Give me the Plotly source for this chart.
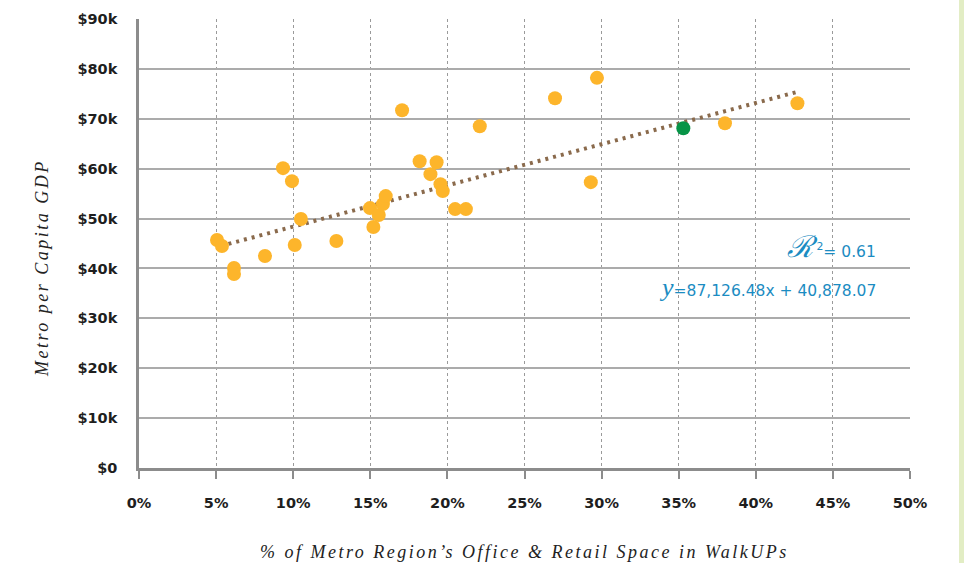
import plotly.graph_objects as go

# ---- data ----
share_walkup = [0.0506, 0.0538, 0.0616, 0.0616, 0.0817, 0.0934, 0.0992, 0.1050, 0.1010,
                0.1280, 0.1498, 0.1520, 0.1555, 0.1582, 0.1600, 0.1706, 0.1820, 0.1890,
                0.1930, 0.1955, 0.1970, 0.2050, 0.2120, 0.2210, 0.2698, 0.2930, 0.2970,
                0.3800, 0.4270]
gdp_per_capita = [45700, 44500, 40100, 38900, 42500, 60100, 57500, 49900, 44700,
                  45500, 52100, 48300, 50700, 52900, 54500, 71700, 61500, 58900,
                  61300, 56900, 55500, 51900, 51900, 68500, 74100, 57300, 78200,
                  69100, 73100]
highlight_x = [0.353]
highlight_y = [68100]
trend_x = [0.053, 0.427]
trend_y = [44500, 75400]

x_tickvals = [0, 0.05, 0.10, 0.15, 0.20, 0.25, 0.30, 0.35, 0.40, 0.45, 0.50]
x_ticktext = ["0%", "5%", "10%", "15%", "20%", "25%", "30%", "35%", "40%", "45%", "50%"]
y_tickvals = [0, 10000, 20000, 30000, 40000, 50000, 60000, 70000, 80000, 90000]
y_ticktext = ["$0", "$10k", "$20k", "$30k", "$40k", "$50k", "$60k", "$70k", "$80k", "$90k"]

x_title = "% of Metro Region’s Office &amp; Retail Space in WalkUPs"
y_title = "Metro per Capita GDP"
r2_text = "0.61"
eq_text = "87,126.48x + 40,878.07"

# ---- figure ----
fig = go.Figure()
fig.add_trace(go.Scatter(x=trend_x, y=trend_y, mode="lines",
                         line=dict(color="#8a6a4c", width=4, dash="3px,5px"),
                         hoverinfo="skip", showlegend=False))
fig.add_trace(go.Scatter(x=share_walkup, y=gdp_per_capita, mode="markers",
                         marker=dict(color="#fdb52b", size=14, line=dict(width=0)),
                         showlegend=False))
fig.add_trace(go.Scatter(x=highlight_x, y=highlight_y, mode="markers",
                         marker=dict(color="#079447", size=14, line=dict(width=0)),
                         showlegend=False))

tick_font = dict(family="DejaVu Sans", size=14.5, color="#1e1e1e", weight="bold")
title_font = dict(family="Liberation Serif", size=18, color="#222222", style="italic")

fig.update_xaxes(range=[0, 0.5], tickvals=x_tickvals, ticktext=x_ticktext,
                 showgrid=True, gridcolor="#9a9a9a", griddash="dot", gridwidth=1,
                 showline=True, linecolor="#8c8c8c", linewidth=2.5,
                 ticks="outside", ticklen=8, tickcolor="#8c8c8c", tickwidth=1.5,
                 ticklabelstandoff=12, tickfont=tick_font, zeroline=False,
                 automargin=False)
fig.update_yaxes(range=[0, 90000], tickvals=y_tickvals, ticktext=y_ticktext,
                 showgrid=True, gridcolor="#ababab", gridwidth=1.5,
                 showline=True, linecolor="#8c8c8c", linewidth=2.5,
                 ticks="", ticklabelstandoff=16, tickfont=tick_font, zeroline=False,
                 automargin=False)

# axis titles as annotations (exact placement)
fig.add_annotation(x=0.5, y=-0.186, xref="paper", yref="paper", xanchor="center",
                   yanchor="middle", showarrow=False, text=x_title, font=title_font)
fig.add_annotation(x=-0.126, y=0.445, xref="paper", yref="paper", xanchor="center",
                   yanchor="middle", showarrow=False, text=y_title, font=title_font,
                   textangle=-90)

blue = "#1b8cc2"
fig.add_annotation(x=0.479, y=44300, xref="x", yref="y", xanchor="right", yanchor="middle",
                   showarrow=False,
                   text=("<span style='font-family:DejaVu Serif;font-style:italic;font-size:30px'>ℛ</span>"
                         "<sup> 2</sup>= " + r2_text),
                   font=dict(family="DejaVu Sans", size=15.5, color=blue))
fig.add_annotation(x=0.479, y=36100, xref="x", yref="y", xanchor="right", yanchor="middle",
                   showarrow=False,
                   text=("<span style='font-family:Liberation Serif;font-style:italic;font-size:26px'>y</span>"
                         "=" + eq_text),
                   font=dict(family="DejaVu Sans", size=15.5, color=blue))

# light green strip at the right edge
fig.add_shape(type="rect", xref="paper", yref="paper", x0=1.0636, x1=1.2, y0=-0.3, y1=1.1,
              fillcolor="#e2edc4", line=dict(width=0), layer="below")

fig.update_layout(width=964, height=563, margin=dict(l=139, r=54, t=19, b=95),
                  plot_bgcolor="white", paper_bgcolor="white", showlegend=False)

post = """
document.body.style.margin='0';
document.body.style.padding='0';
document.querySelectorAll('.annotation-text').forEach(function(e){
  var t = e.textContent;
  if (t.indexOf('WalkUPs') >= 0 || t.indexOf('Capita') >= 0) { e.style.letterSpacing='2.5px'; }
});
"""
fig.write_html("out.html", post_script=post, config={"displayModeBar": False})
